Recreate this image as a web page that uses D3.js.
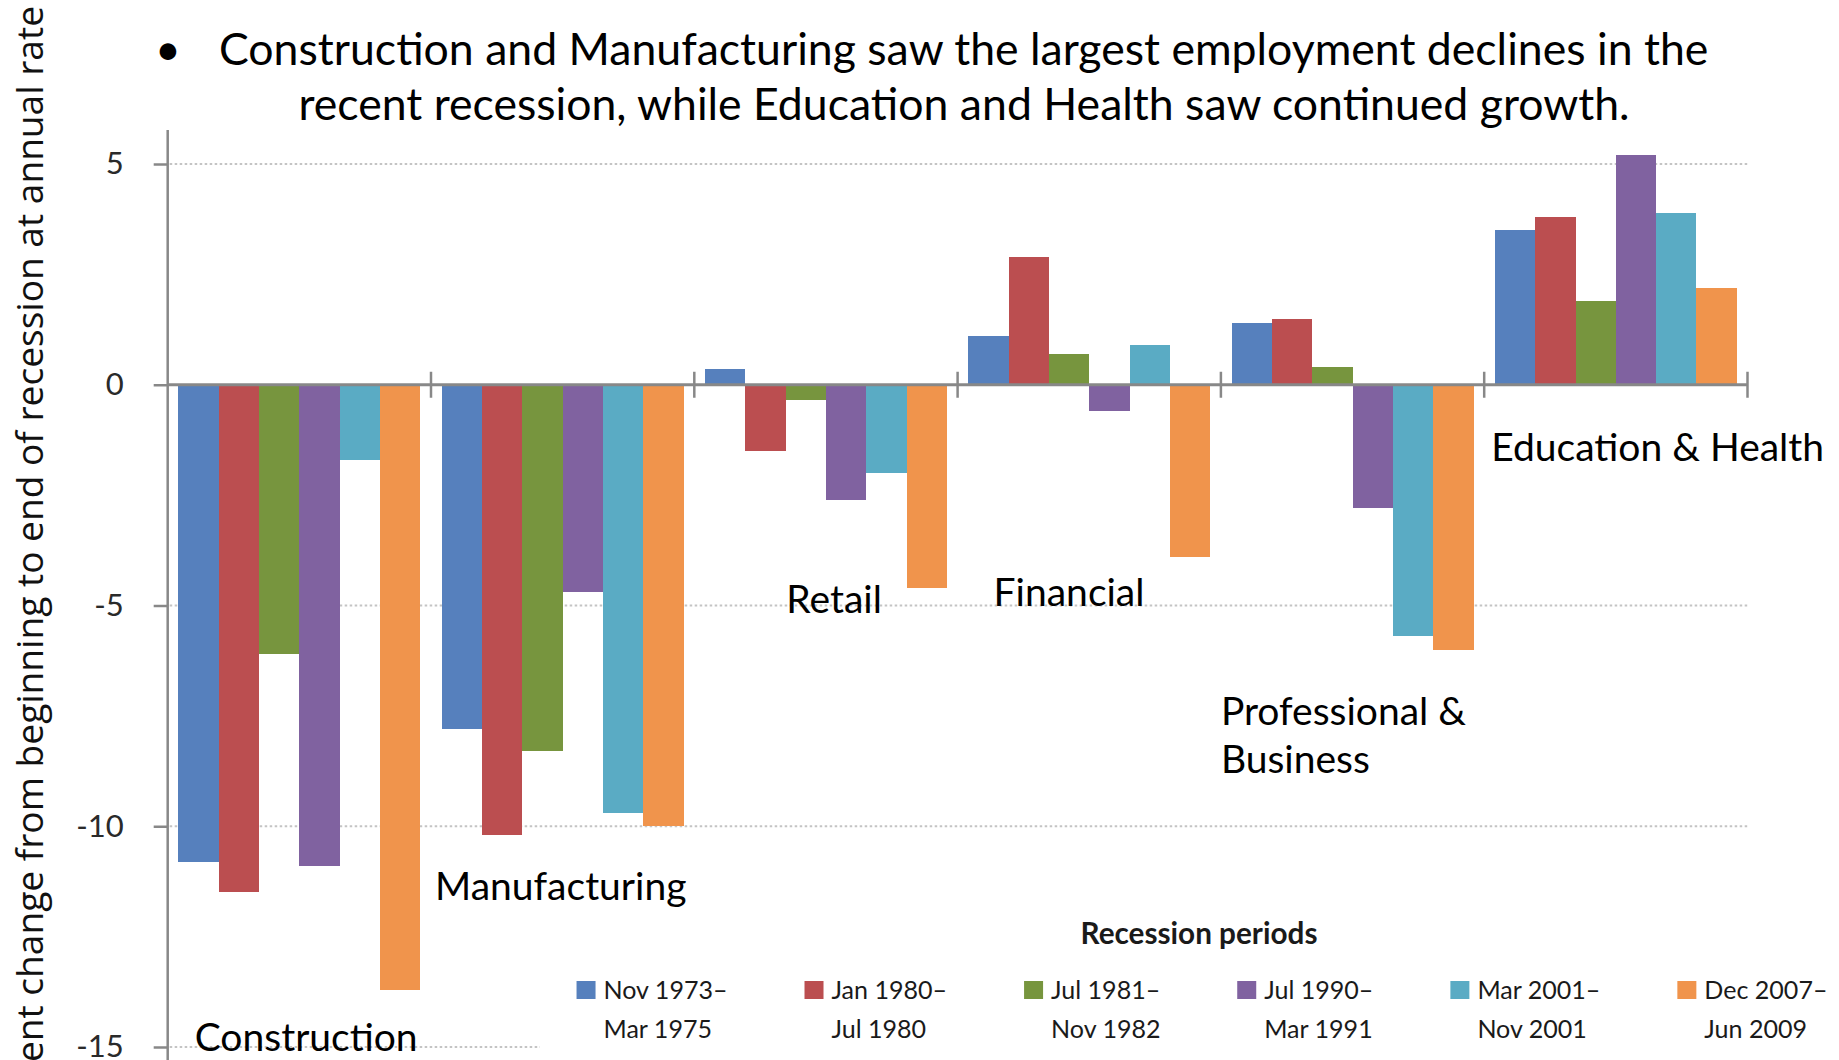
<!DOCTYPE html>
<html>
<head>
<meta charset="utf-8">
<script src="https://cdn.jsdelivr.net/npm/d3@7"></script>
<style>
  html, body { margin: 0; padding: 0; background: #fff; overflow: hidden; }
  svg { display: block; }
</style>
</head>
<body>
<svg id="chart" width="1839" height="1060"></svg>
<script>
// ---- Data -------------------------------------------------------------
const categories = ["Construction", "Manufacturing", "Retail", "Financial",
                    "Professional & Business", "Education & Health"];

// Percent change from beginning to end of each recession, at annual rate
const nov1973 = [-10.8,  -7.8,  0.35,  1.1,  1.4, 3.5];
const jan1980 = [-11.5, -10.2, -1.5,   2.9,  1.5, 3.8];
const jul1981 = [ -6.1,  -8.3, -0.35,  0.7,  0.4, 1.9];
const jul1990 = [-10.9,  -4.7, -2.6,  -0.6, -2.8, 5.2];
const mar2001 = [ -1.7,  -9.7, -2.0,   0.9, -5.7, 3.9];
const dec2007 = [-13.7, -10.0, -4.6,  -3.9, -6.0, 2.2];
const series = [nov1973, jan1980, jul1981, jul1990, mar2001, dec2007];

const periodStart = ["Nov 1973\u2013", "Jan 1980\u2013", "Jul 1981\u2013",
                     "Jul 1990\u2013", "Mar 2001\u2013", "Dec 2007\u2013"];
const periodEnd   = ["Mar 1975", "Jul 1980", "Nov 1982",
                     "Mar 1991", "Nov 2001", "Jun 2009"];

const yTicks = [5, 0, -5, -10, -15];
const yTickLabels = ["5", "0", "-5", "-10", "-15"];
const gridValues = [5, -5, -10, -15];

const titleLines = [
  "Construction and Manufacturing saw the largest employment declines in the",
  "recent recession, while Education and Health saw continued growth."
];
const yTitle = "Percent change from beginning to end of recession at annual rate";
const legendTitle = "Recession periods";

// ---- Styles -----------------------------------------------------------
const seriesColors = ["#5680bd", "#bb4e50", "#77953e", "#8062a0", "#5aabc4", "#f0944c"];
const axisColor = "#888888";
const gridColor = "#c4c4c4";
const textFont = "Lato, 'Open Sans', sans-serif";

// ---- Scales -----------------------------------------------------------
const svg = d3.select("#chart");
const plotLeft = 167.7, plotRight = 1747.5;

const y = d3.scaleLinear().domain([-15, 5]).range([1047, 164]);
const x0 = d3.scaleBand().domain(categories).range([plotLeft, plotRight])
  .paddingInner(0).paddingOuter(0);
const x1 = d3.scaleBand().domain(d3.range(series.length))
  .range([0, x0.bandwidth()]).paddingInner(0).paddingOuter(0.265);

// ---- Gridlines --------------------------------------------------------
svg.append("g").attr("class", "grid")
  .selectAll("line").data(gridValues).join("line")
  .attr("x1", plotLeft + 2).attr("x2", plotRight)
  .attr("y1", d => y(d)).attr("y2", d => y(d))
  .attr("stroke", gridColor).attr("stroke-width", 2)
  .attr("stroke-dasharray", "2.5,2.5");

// Legend panel background (sits over the plot area, hiding the bottom gridline)
svg.append("rect")
  .attr("x", 540).attr("y", 912).attr("width", 1839 - 540).attr("height", 1060 - 912)
  .attr("fill", "#fff");

// ---- Bars -------------------------------------------------------------
const barData = [];
categories.forEach((c, ci) => {
  series.forEach((s, si) => barData.push({ cat: c, si, v: s[ci] }));
});

svg.append("g").attr("class", "bars")
  .selectAll("rect").data(barData).join("rect")
  .attr("x", d => x0(d.cat) + x1(d.si))
  .attr("width", x1.bandwidth())
  .attr("y", d => Math.min(y(d.v), y(0)))
  .attr("height", d => Math.abs(y(d.v) - y(0)))
  .attr("fill", d => seriesColors[d.si])
  .attr("shape-rendering", "crispEdges");

// ---- Axes -------------------------------------------------------------
// Vertical axis line
svg.append("line")
  .attr("x1", plotLeft).attr("x2", plotLeft)
  .attr("y1", 130).attr("y2", 1060)
  .attr("stroke", axisColor).attr("stroke-width", 2.5);

const yAxis = d3.axisLeft(y).tickValues(yTicks).tickSize(14).tickPadding(30)
  .tickFormat((d, i) => yTickLabels[i]);
const yg = svg.append("g").attr("transform", `translate(${plotLeft},0)`).call(yAxis);
yg.select(".domain").remove();
yg.selectAll(".tick line").attr("stroke", axisColor).attr("stroke-width", 2.5);
yg.selectAll(".tick text")
  .attr("font-family", textFont).attr("font-size", 31)
  .attr("fill", "#2a2a2a");

// Horizontal zero axis with category boundary ticks
svg.append("line")
  .attr("x1", plotLeft).attr("x2", plotRight)
  .attr("y1", y(0)).attr("y2", y(0))
  .attr("stroke", axisColor).attr("stroke-width", 3);

const boundaries = categories.map(c => x0(c)).concat([x0.range()[1]]);
svg.append("g").selectAll("line").data(boundaries.slice(1)).join("line")
  .attr("x1", d => d).attr("x2", d => d)
  .attr("y1", y(0) - 13).attr("y2", y(0) + 13)
  .attr("stroke", axisColor).attr("stroke-width", 2.5);

// ---- Category labels --------------------------------------------------
// Anchor of each label: offset from its band start and a value-space baseline
const labelAnchors = [
  { dx: 27,  v: -15.1 },
  { dx: 4,   v: -11.67 },
  { dx: 92,  v: -5.16 },
  { dx: 36,  v: -5.0 },
  { dx: 0,   v: -7.7 },
  { dx: 7,   v: -1.73 }
];
const labelLines = categories.map(c =>
  c === "Professional & Business" ? ["Professional &", "Business"] : [c]);

const catLabels = svg.append("g").attr("class", "cat-labels");
const catTexts = catLabels.selectAll("text").data(categories).join("text")
  .attr("font-family", textFont).attr("font-size", 40).attr("fill", "#000")
  .attr("x", (c, i) => x0(c) + labelAnchors[i].dx)
  .attr("y", (c, i) => y(labelAnchors[i].v));
catTexts.each(function (c, i) {
  const t = d3.select(this);
  labelLines[i].forEach((line, li) => {
    t.append("tspan")
      .attr("x", x0(c) + labelAnchors[i].dx)
      .attr("dy", li === 0 ? 0 : "1.25em")
      .text(line);
  });
});
// Size the label font so "Education & Health" spans its allotted width
{
  const edu = catTexts.filter(c => c === "Education & Health").node();
  const w = edu.getComputedTextLength();
  const fs = 40 * 333 / w;
  catTexts.attr("font-size", fs);
}

// ---- Title ------------------------------------------------------------
const title = svg.append("g").attr("class", "title");
const t1 = title.append("text")
  .attr("x", 219).attr("y", 65)
  .attr("font-family", textFont).attr("font-size", 44).attr("fill", "#000")
  .text(titleLines[0]);
const titleSize = 44 * 1490 / t1.node().getComputedTextLength();
t1.attr("font-size", titleSize);
title.append("text")
  .attr("x", 964).attr("y", 120).attr("text-anchor", "middle")
  .attr("font-family", textFont).attr("font-size", titleSize).attr("fill", "#000")
  .text(titleLines[1]);
title.append("text")
  .attr("x", 168).attr("y", 65).attr("text-anchor", "middle")
  .attr("font-family", textFont).attr("font-size", titleSize).attr("fill", "#000")
  .text("\u2022");

// ---- Y axis title -----------------------------------------------------
const yt = svg.append("text")
  .attr("transform", "translate(43,6) rotate(-90)")
  .attr("text-anchor", "end")
  .attr("font-family", "'Open Sans', 'Noto Sans', sans-serif")
  .attr("font-size", 38).attr("fill", "#111")
  .text(yTitle);
{
  const n = yt.node();
  const visible = n.getSubStringLength(3, yTitle.length - 3);
  yt.attr("font-size", 38 * 1074 / visible);
}

// ---- Legend -----------------------------------------------------------
const legend = svg.append("g").attr("class", "legend");
const lt = legend.append("text")
  .attr("x", 1199).attr("y", 944).attr("text-anchor", "middle")
  .attr("font-family", textFont).attr("font-weight", "bold")
  .attr("font-size", 26).attr("fill", "#1a1a1a")
  .text(legendTitle);
lt.attr("font-size", 26 * 237 / lt.node().getComputedTextLength());

const items = legend.selectAll("g.item").data(periodStart).join("g").attr("class", "item");
const firstLines = items.append("text")
  .attr("font-family", textFont).attr("font-size", 26).attr("fill", "#1a1a1a")
  .attr("y", 999)
  .text(d => d);
// Fit legend text size to the first entry
const legendSize = 26 * 124 / firstLines.node().getComputedTextLength();
firstLines.attr("font-size", legendSize);
items.append("text")
  .attr("class", "second")
  .attr("font-family", textFont).attr("font-size", legendSize).attr("fill", "#1a1a1a")
  .attr("y", 1038)
  .text((d, i) => periodEnd[i]);

const sw = 19, swGap = 8, itemGap = 77;
const widths = firstLines.nodes().map(n => n.getComputedTextLength());
const total = d3.sum(widths) + periodStart.length * (sw + swGap) + (periodStart.length - 1) * itemGap;
let cursor = 1202 - total / 2;
items.each(function (d, i) {
  const g = d3.select(this);
  g.insert("rect", "text")
    .attr("x", cursor).attr("y", 981).attr("width", sw).attr("height", 18)
    .attr("fill", seriesColors[i]);
  g.selectAll("text").attr("x", cursor + sw + swGap);
  cursor += sw + swGap + widths[i] + itemGap;
});
</script>
</body>
</html>
